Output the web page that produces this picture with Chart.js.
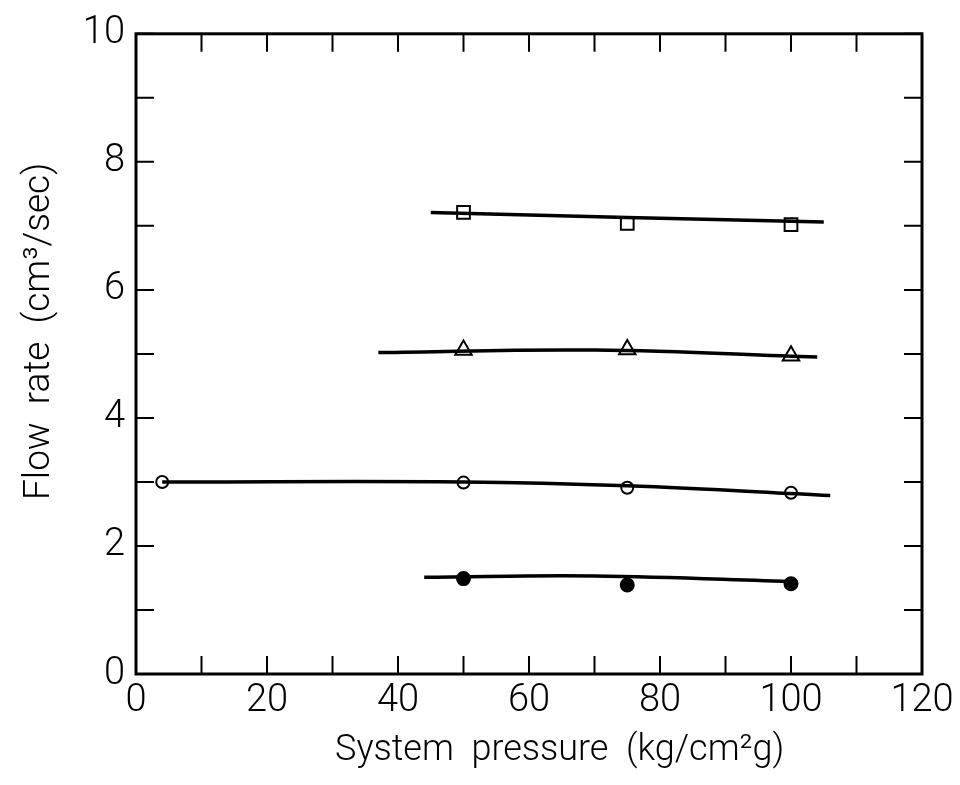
<!DOCTYPE html>
<html>
<head>
<meta charset="utf-8">
<script src="https://cdn.jsdelivr.net/npm/chart.js@4"></script>
<style>
  html, body { margin: 0; padding: 0; background: #fff; }
  #wrap { width: 960px; height: 785px; }
</style>
</head>
<body>
<div id="wrap"><canvas id="chart" width="960" height="785"></canvas></div>
<script>
// measured points (system pressure kg/cm2g vs flow rate cm3/sec)
const pressure = [50, 75, 100];
const squareFlow = [7.21, 7.04, 7.02];
const triangleFlow = [5.06, 5.07, 4.97];
const openCirclePressure = [4, 50, 75, 100];
const openCircleFlow = [3.0, 2.99, 2.91, 2.83];
const filledFlow = [1.49, 1.39, 1.41];

// hand-drawn fit curves
const squareFitP = [45, 75, 105];
const squareFit = [7.21, 7.13, 7.06];
const triangleFitP = [37, 70, 104];
const triangleFit = [5.02, 5.06, 4.95];
const circleFitP = [4, 50, 75, 106];
const circleFit = [3.0, 3.0, 2.94, 2.79];
const filledFitP = [44, 70, 101];
const filledFit = [1.51, 1.53, 1.44];

// axis ticks
const xMinorTicks = [0, 10, 20, 30, 40, 50, 60, 70, 80, 90, 100, 110, 120];
const yMinorTicks = [0, 1, 2, 3, 4, 5, 6, 7, 8, 9, 10];

const FONT = 'Roboto, "Liberation Sans", sans-serif';

function pts(xs, ys) {
  return xs.map((x, i) => ({ x: x, y: ys[i] }));
}

function fitLine(xs, ys) {
  return {
    type: 'line',
    data: pts(xs, ys),
    borderColor: '#000',
    borderWidth: 3.5,
    pointRadius: 0,
    tension: 0.4,
    fill: false,
  };
}

function markers(xs, ys, style, filled, r) {
  return {
    type: 'scatter',
    data: pts(xs, ys),
    pointStyle: style,
    pointRadius: r,
    pointBorderColor: '#000',
    pointBorderWidth: 2,
    pointBackgroundColor: filled ? '#000' : '#fff',
  };
}

// frame and inward ticks on all four sides
const frameTicks = {
  id: 'frameTicks',
  afterDraw(chart) {
    const { ctx, chartArea: a, scales } = chart;
    ctx.save();
    ctx.strokeStyle = '#000';
    ctx.lineWidth = 2;
    const len = 18;
    xMinorTicks.forEach(v => {
      const px = scales.x.getPixelForValue(v);
      ctx.beginPath();
      ctx.moveTo(px, a.bottom); ctx.lineTo(px, a.bottom - len);
      ctx.moveTo(px, a.top); ctx.lineTo(px, a.top + len);
      ctx.stroke();
    });
    yMinorTicks.forEach(v => {
      const py = scales.y.getPixelForValue(v);
      ctx.beginPath();
      ctx.moveTo(a.left, py); ctx.lineTo(a.left + len, py);
      ctx.moveTo(a.right, py); ctx.lineTo(a.right - len, py);
      ctx.stroke();
    });
    ctx.lineWidth = 3;
    ctx.strokeRect(a.left, a.top, a.right - a.left, a.bottom - a.top);
    ctx.restore();
  }
};

const config = {
  type: 'scatter',
  data: {
    datasets: [
      fitLine(squareFitP, squareFit),
      fitLine(triangleFitP, triangleFit),
      fitLine(circleFitP, circleFit),
      fitLine(filledFitP, filledFit),
      markers(pressure, squareFlow, 'rect', false, 9),
      markers(pressure, triangleFlow, 'triangle', false, 9.5),
      markers(openCirclePressure, openCircleFlow, 'circle', false, 6),
      markers(pressure, filledFlow, 'circle', true, 6.5),
    ],
  },
  options: {
    responsive: false,
    animation: false,
    layout: { padding: { top: 29, right: 38, left: 0, bottom: 0 } },
    plugins: {
      legend: { display: false },
      tooltip: { enabled: false },
    },
    scales: {
      x: {
        type: 'linear',
        min: 0,
        max: 120,
        afterFit: (s) => { s.height = 111; },
        grid: { display: false, drawTicks: false },
        border: { display: false },
        ticks: {
          stepSize: 20,
          padding: 5,
          color: '#000',
          font: { size: 38, family: FONT, weight: 300 },
        },
        title: {
          display: true,
          text: '       System  pressure  (kg/cm²g)',
          color: '#000',
          font: { size: 36, family: FONT, weight: 300 },
          padding: { top: 0, bottom: 12 },
        },
      },
      y: {
        type: 'linear',
        min: 0,
        max: 10,
        afterFit: (s) => { s.width = 136; },
        grid: { display: false, drawTicks: false },
        border: { display: false },
        ticks: {
          stepSize: 2,
          padding: 11,
          color: '#000',
          font: { size: 38, family: FONT, weight: 300 },
        },
        title: {
          display: true,
          text: '     Flow  rate  (cm³/sec)',
          color: '#000',
          font: { size: 37, family: FONT, weight: 300 },
          padding: { top: 18, bottom: 0 },
        },
      },
    },
  },
  plugins: [frameTicks],
};

new Chart(document.getElementById('chart'), config);
</script>
</body>
</html>
